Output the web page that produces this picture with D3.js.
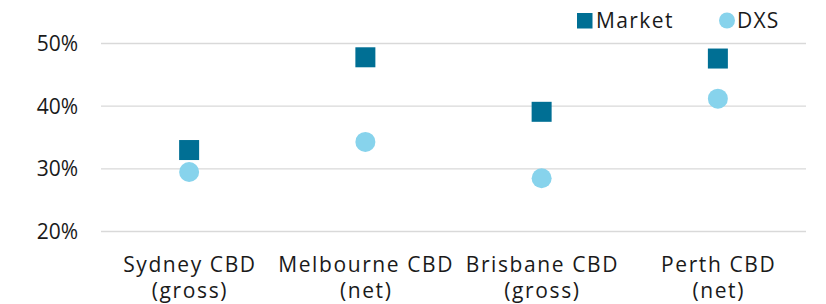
<!DOCTYPE html>
<html><head><meta charset="utf-8">
<script src="https://cdn.jsdelivr.net/npm/d3@7"></script>
<style>body{margin:0;background:#fff;} text{font-family:"Open Sans",sans-serif;fill:#1a1a1a;}</style>
</head><body><svg id="c" width="826" height="304"></svg>
<script>
const categories = [["Sydney CBD","(gross)"],["Melbourne CBD","(net)"],["Brisbane CBD","(gross)"],["Perth CBD","(net)"]];
const market = [33.0, 47.8, 39.1, 47.6];
const dxs = [29.5, 34.3, 28.5, 41.2];
const yTicks = [20, 30, 40, 50];

const svg = d3.select("#c");
const x = d3.scaleBand().domain(d3.range(categories.length)).range([101, 806]);
const y = d3.scaleLinear().domain([20, 50]).range([231.5, 43.5]);
const fs = "21px";

svg.append("g").selectAll("line").data(yTicks).join("line")
  .attr("x1", 101).attr("x2", 806).attr("y1", d => y(d)).attr("y2", d => y(d))
  .attr("stroke", "#d9d9d9").attr("stroke-width", 1.3);

svg.append("g").selectAll("text").data(yTicks).join("text")
  .attr("x", 78).attr("y", d => y(d)).attr("dy", "0.35em").attr("text-anchor", "end")
  .style("font-size", fs).text(d => d + "%");

const xl = svg.append("g").selectAll("text").data(categories).join("text")
  .attr("text-anchor", "middle").style("font-size", fs).style("letter-spacing", "1.6px")
  .attr("transform", (d, i) => `translate(${x(i) + x.bandwidth() / 2 + 0.8},0)`);
xl.append("tspan").attr("x", 0).attr("y", 272).text(d => d[0]);
xl.append("tspan").attr("x", 0).attr("y", 298).text(d => d[1]);

const s = 20;
svg.append("g").selectAll("rect").data(market).join("rect")
  .attr("x", (d, i) => x(i) + x.bandwidth() / 2 - s / 2).attr("y", d => y(d) - s / 2)
  .attr("width", s).attr("height", s).attr("fill", "#006F94");
svg.append("g").selectAll("circle").data(dxs).join("circle")
  .attr("cx", (d, i) => x(i) + x.bandwidth() / 2).attr("cy", d => y(d))
  .attr("r", 10).attr("fill", "#87D3EC");

// legend
const lg = svg.append("g");
lg.append("rect").attr("x", 577).attr("y", 13).attr("width", 15.5).attr("height", 15.5).attr("fill", "#006F94");
lg.append("text").attr("x", 596).attr("y", 20.5).attr("dy", "0.35em").style("font-size", fs).style("letter-spacing", "1.4px").text("Market");
lg.append("circle").attr("cx", 727).attr("cy", 20.5).attr("r", 8).attr("fill", "#87D3EC");
lg.append("text").attr("x", 737).attr("y", 20.5).attr("dy", "0.35em").style("font-size", fs).style("letter-spacing", "1.2px").text("DXS");
</script></body></html>
